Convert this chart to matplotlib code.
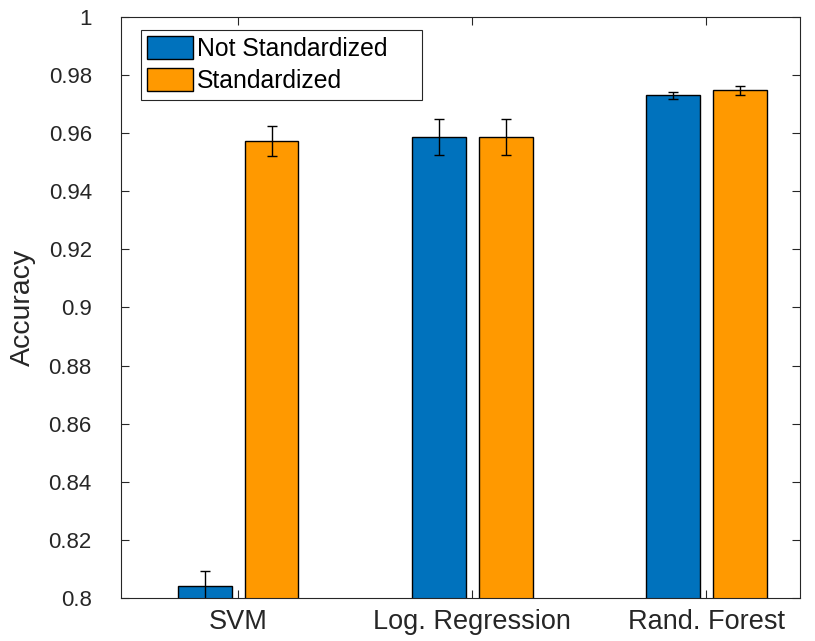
import numpy as np
import matplotlib.pyplot as plt

plt.rcParams['font.family'] = ['Liberation Sans', 'DejaVu Sans']

modelos = ['SVM', 'Log. Regression', 'Rand. Forest']
nao_padronizado = [0.8042, 0.9588, 0.9730]
erro_nao_padronizado = [0.0052, 0.0062, 0.0012]
padronizado = [0.9573, 0.9588, 0.9747]
erro_padronizado = [0.0052, 0.0062, 0.0014]

fig = plt.figure(figsize=(8.15, 6.41), dpi=100)
ax = fig.add_axes([0.1485, 0.0671, 0.8331, 0.9064])

x = np.arange(1, len(modelos) + 1)
largura = 0.23
desloc = 0.143

ax.bar(x - desloc, nao_padronizado, largura, color='#0072BD', edgecolor='black',
       linewidth=1.0, label='Not Standardized')
ax.bar(x + desloc, padronizado, largura, color='#FF9900', edgecolor='black',
       linewidth=1.0, label='Standardized')
ax.errorbar(x - desloc, nao_padronizado, yerr=erro_nao_padronizado, fmt='none',
            ecolor='black', elinewidth=1.0, capsize=3.3, capthick=1.0)
ax.errorbar(x + desloc, padronizado, yerr=erro_padronizado, fmt='none',
            ecolor='black', elinewidth=1.0, capsize=3.3, capthick=1.0)

ax.set_xlim(0.5, 3.4)
ax.set_ylim(0.8, 1.0)
ax.set_xticks(x)
ax.set_xticklabels(modelos)
ax.set_yticks(np.arange(0.8, 1.001, 0.02))
ax.set_yticklabels(['0.8', '0.82', '0.84', '0.86', '0.88', '0.9',
                    '0.92', '0.94', '0.96', '0.98', '1'])
ax.tick_params(direction='in', top=True, right=True,
               length=6, width=0.8, colors='#262626', labelcolor='#262626')
ax.tick_params(axis='x', labelsize=19.5, pad=8)
ax.tick_params(axis='y', labelsize=16, pad=21)
for s in ax.spines.values():
    s.set_color('#262626')
    s.set_linewidth(0.8)

ax.set_ylabel('Accuracy', fontsize=20.5, color='#262626', labelpad=9)

leg = ax.legend(loc='upper left', fontsize=17.8, fancybox=False, framealpha=1,
                edgecolor='#262626', handlelength=1.85, handleheight=1.05,
                handletextpad=0.15, borderpad=0.25, labelspacing=0.3,
                borderaxespad=0, mode='expand',
                bbox_to_anchor=(0.0295, 0.0, 0.414, 0.9776))
leg.get_frame().set_linewidth(0.8)

fig.savefig('out.png', dpi=100)
